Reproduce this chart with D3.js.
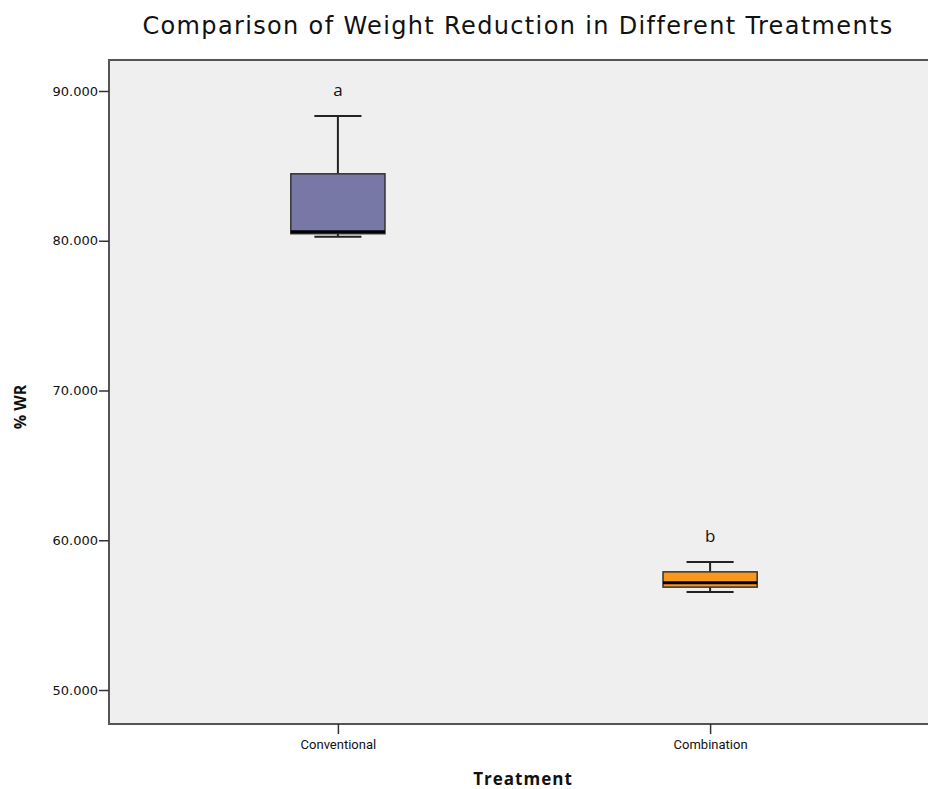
<!DOCTYPE html>
<html>
<head>
<meta charset="utf-8">
<script src="https://cdn.jsdelivr.net/npm/d3@7"></script>
<style>
  body { margin: 0; background: #fff; }
  svg text { fill: #111; }
</style>
</head>
<body>
<svg id="chart" width="928" height="789"></svg>
<script>
// values
const categories = ['Conventional', 'Combination'];
const letters = ['a', 'b'];
const mins = [80.27, 56.55];
const q1s = [80.47, 56.87];
const medians = [80.6, 57.17];
const q3s = [84.47, 57.89];
const maxs = [88.33, 58.55];
const yTicks = [50, 60, 70, 80, 90];
const colors = ['#7878a7', '#f7981d'];

const svg = d3.select('#chart');
const plot = {left: 109, top: 60, right: 939, bottom: 724};

const x = d3.scalePoint()
    .domain(categories)
    .range([plot.left, plot.right])
    .padding(0.615);

const y = d3.scaleLinear()
    .domain([47.73, 92.07])
    .range([plot.bottom, plot.top]);

const boxWidth = x.step() * 0.253;

// plot background + frame
svg.append('rect')
    .attr('x', plot.left)
    .attr('y', plot.top)
    .attr('width', plot.right - plot.left)
    .attr('height', plot.bottom - plot.top)
    .attr('fill', '#efefef')
    .attr('stroke', '#555')
    .attr('stroke-width', 2);

const boxes = svg.append('g')
  .selectAll('g')
  .data(categories.map((c, i) => ({
      name: c, letter: letters[i], min: mins[i], q1: q1s[i],
      median: medians[i], q3: q3s[i], max: maxs[i], color: colors[i]
  })))
  .join('g')
    .attr('transform', d => `translate(${x(d.name)},0)`);

// whisker stems
boxes.append('line')
    .attr('y1', d => y(d.max))
    .attr('y2', d => y(d.q3))
    .attr('stroke', '#222')
    .attr('stroke-width', 2);
boxes.append('line')
    .attr('y1', d => y(d.min))
    .attr('y2', d => y(d.q1))
    .attr('stroke', '#222')
    .attr('stroke-width', 2);

// whisker caps
boxes.selectAll('line.cap')
  .data(d => [d.min, d.max])
  .join('line')
    .attr('class', 'cap')
    .attr('x1', -boxWidth / 4)
    .attr('x2', boxWidth / 4)
    .attr('y1', v => y(v))
    .attr('y2', v => y(v))
    .attr('stroke', '#222')
    .attr('stroke-width', 2);

boxes.append('rect')
    .attr('x', -boxWidth / 2)
    .attr('width', boxWidth)
    .attr('y', d => y(d.q3))
    .attr('height', d => y(d.q1) - y(d.q3))
    .attr('fill', d => d.color)
    .attr('stroke', '#333')
    .attr('stroke-width', 1.5);

boxes.append('line')
    .attr('x1', -boxWidth / 2)
    .attr('x2', boxWidth / 2)
    .attr('y1', d => y(d.median))
    .attr('y2', d => y(d.median))
    .attr('stroke', '#000')
    .attr('stroke-width', 3);

boxes.append('text')
    .attr('y', d => y(d.max) - 20)
    .attr('text-anchor', 'middle')
    .style('font-family', 'Open Sans, sans-serif')
    .style('font-size', '17px')
    .text(d => d.letter);

// axes
const yAxis = svg.append('g')
    .attr('transform', `translate(${plot.left},0)`)
    .call(d3.axisLeft(y).tickValues(yTicks).tickFormat(d3.format('.3f')).tickSize(10).tickPadding(1));
yAxis.select('.domain').remove();
yAxis.selectAll('line').attr('stroke', '#333').attr('stroke-width', 1.5);
yAxis.selectAll('text')
    .style('font-family', 'DejaVu Sans, sans-serif')
    .style('font-size', '13px')
    .attr('fill', '#333');

const xAxis = svg.append('g')
    .attr('transform', `translate(0,${plot.bottom})`)
    .call(d3.axisBottom(x).tickSize(10).tickPadding(6));
xAxis.select('.domain').remove();
xAxis.selectAll('line').attr('stroke', '#333').attr('stroke-width', 1.5);
xAxis.selectAll('text')
    .style('font-family', 'Liberation Sans Narrow, Roboto, sans-serif')
    .style('font-size', '13px')
    .attr('fill', '#111');

// titles
svg.append('text')
    .attr('x', 518)
    .attr('y', 34)
    .attr('text-anchor', 'middle')
    .style('font-family', 'DejaVu Sans, sans-serif')
    .style('font-size', '24px')
    .style('letter-spacing', '1.35px')
    .text('Comparison of Weight Reduction in Different Treatments');

svg.append('text')
    .attr('x', 523)
    .attr('y', 785)
    .attr('text-anchor', 'middle')
    .style('font-family', 'Open Sans, sans-serif')
    .style('font-size', '17px')
    .style('font-weight', 'bold')
    .style('letter-spacing', '1px')
    .text('Treatment');

svg.append('text')
    .attr('transform', `translate(26,${(plot.top + plot.bottom) / 2 + 15}) rotate(-90)`)
    .attr('text-anchor', 'middle')
    .style('font-family', 'Open Sans, sans-serif')
    .style('font-size', '16px')
    .style('font-weight', 'bold')
    .text('% WR');
</script>
</body>
</html>
